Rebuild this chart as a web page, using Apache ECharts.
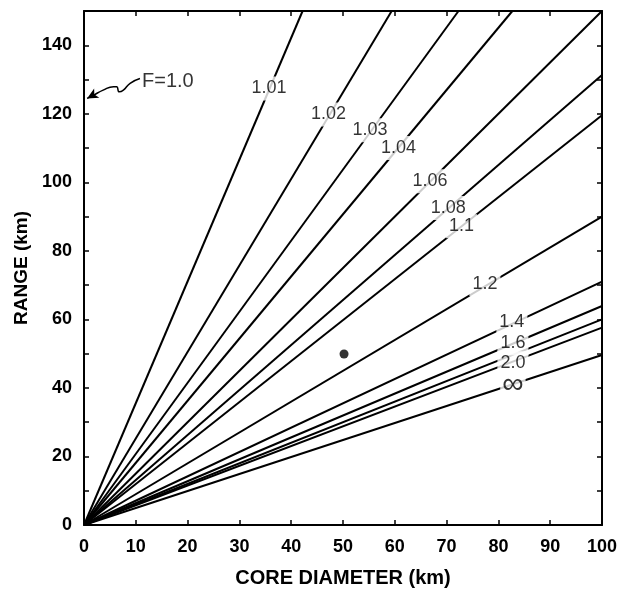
<!DOCTYPE html>
<html>
<head>
<meta charset="utf-8">
<script src="https://cdn.jsdelivr.net/npm/echarts@6/dist/echarts.min.js"></script>
<style>
  html, body { margin: 0; padding: 0; background: #fff; }
  #chart { width: 630px; height: 589px; }
</style>
</head>
<body>
<div id="chart"></div>
<script>
// curve names (F values) and their end points
const curveNames = ['1.01', '1.02', '1.03', '1.04', '1.06', '1.08', '1.1', '1.2', '1.4', '1.6', '1.8', '2.0', '∞']
const curveEndX = [42.2, 59.4, 72.3, 82.7, 100, 100, 100, 100, 100, 100, 100, 100, 100]
const curveEndY = [150, 150, 150, 150, 150, 131.3, 119.6, 90, 71, 63.9, 60, 57.6, 49.6]

// label positions on the curves (1.8 has no label in the figure)
const labelText = ['1.01', '1.02', '1.03', '1.04', '1.06', '1.08', '1.1', '1.2', '1.4', '1.6', '2.0', '∞']
const labelX = [35.7, 47.2, 55.2, 60.7, 66.8, 70.3, 72.9, 77.4, 82.6, 82.8, 82.8, 82.8]
const labelY = [127.4, 119.8, 115.2, 110, 100.3, 92.5, 87.2, 70.3, 59.2, 53, 47.2, 41]

// measured point
const pointX = [50.2]
const pointY = [49.9]

// F=1.0 annotation: squiggle arrow pointing at the range axis
const arrowX = [10.8, 8.9, 7.6, 6.8, 6.3, 5.7, 3.7, 1.8, 0.6]
const arrowY = [130.3, 128.9, 126.9, 126.4, 127.9, 127.9, 126.9, 125.4, 124.5]
const noteText = 'F=1.0'
const noteX = 11.2
const noteY = 129.5

const chart = echarts.init(document.getElementById('chart'))
const font = 'Liberation Sans, Arial, Helvetica, sans-serif'

const series = []
curveNames.forEach((n, i) => {
  series.push({
    name: n,
    type: 'line',
    data: [[0, 0], [curveEndX[i], curveEndY[i]]],
    symbol: 'none',
    lineStyle: { color: '#000', width: 2 },
    silent: true,
    z: 2
  })
})

// labels sitting on the curves, white box breaks the line
series.push({
  type: 'scatter',
  data: labelText.map((t, i) => {
    const item = { value: [labelX[i], labelY[i], t] }
    if (t === '∞') item.label = { fontSize: 30, padding: [-4, 2, 0, 2], lineHeight: 22 }
    return item
  }),
  symbolSize: 0,
  silent: true,
  z: 5,
  label: {
    show: true,
    position: 'inside',
    formatter: p => p.data.value[2],
    color: '#000',
    fontFamily: font,
    fontSize: 18,
    backgroundColor: '#fff',
    padding: [3, 3]
  }
})

series.push({
  type: 'scatter',
  data: pointX.map((x, i) => [x, pointY[i]]),
  symbol: 'circle',
  symbolSize: 9,
  itemStyle: { color: '#000' },
  z: 6
})

// squiggle arrow
series.push({
  type: 'line',
  data: arrowX.map((x, i) => [x, arrowY[i]]),
  smooth: true,
  symbol: 'none',
  lineStyle: { color: '#000', width: 1.5 },
  silent: true,
  markPoint: {
    symbol: 'arrow',
    symbolSize: [8, 11],
    symbolRotate: 119,
    itemStyle: { color: '#000' },
    label: { show: false },
    data: [{ coord: [arrowX[arrowX.length - 1], arrowY[arrowY.length - 1]] }]
  }
})

series.push({
  type: 'scatter',
  data: [[noteX, noteY, noteText]],
  symbolSize: 0,
  silent: true,
  label: {
    show: true,
    position: 'right',
    distance: 0,
    formatter: p => p.data[2],
    color: '#000',
    fontFamily: font,
    fontSize: 20
  }
})

const tickStyle = { show: true, inside: true, length: 5, lineStyle: { color: '#000', width: 1.5 } }
const lineStyle = { show: true, onZero: false, lineStyle: { color: '#000', width: 2 } }

const option = {
  animation: false,
  backgroundColor: '#fff',
  grid: { left: 84, right: 28, top: 11, bottom: 64, containLabel: false, outerBoundsMode: 'none' },
  xAxis: [{
    type: 'value',
    min: 0, max: 100, interval: 10,
    name: 'CORE DIAMETER (km)',
    nameLocation: 'middle',
    nameGap: 43,
    nameTextStyle: { fontFamily: font, fontSize: 20, fontWeight: 'bold', color: '#000' },
    axisLine: lineStyle,
    axisTick: tickStyle,
    splitLine: { show: false },
    axisLabel: { fontFamily: font, fontSize: 18, fontWeight: 'bold', color: '#000', margin: 13 }
  }, {
    type: 'value',
    position: 'top',
    min: 0, max: 100, interval: 10,
    axisLine: lineStyle,
    axisTick: tickStyle,
    splitLine: { show: false },
    axisLabel: { show: false }
  }],
  yAxis: [{
    type: 'value',
    min: 0, max: 150, interval: 10,
    name: 'RANGE (km)',
    nameLocation: 'middle',
    nameGap: 50,
    nameRotate: 90,
    nameTextStyle: { fontFamily: font, fontSize: 19, fontWeight: 'bold', color: '#000' },
    axisLine: lineStyle,
    axisTick: tickStyle,
    splitLine: { show: false },
    axisLabel: {
      fontFamily: font, fontSize: 18, fontWeight: 'bold', color: '#000', margin: 12,
      formatter: v => (v % 20 === 0 ? String(v) : '')
    }
  }, {
    type: 'value',
    position: 'right',
    min: 0, max: 150, interval: 10,
    axisLine: lineStyle,
    axisTick: tickStyle,
    splitLine: { show: false },
    axisLabel: { show: false }
  }],
  series: series
}

chart.setOption(option)
</script>
</body>
</html>
